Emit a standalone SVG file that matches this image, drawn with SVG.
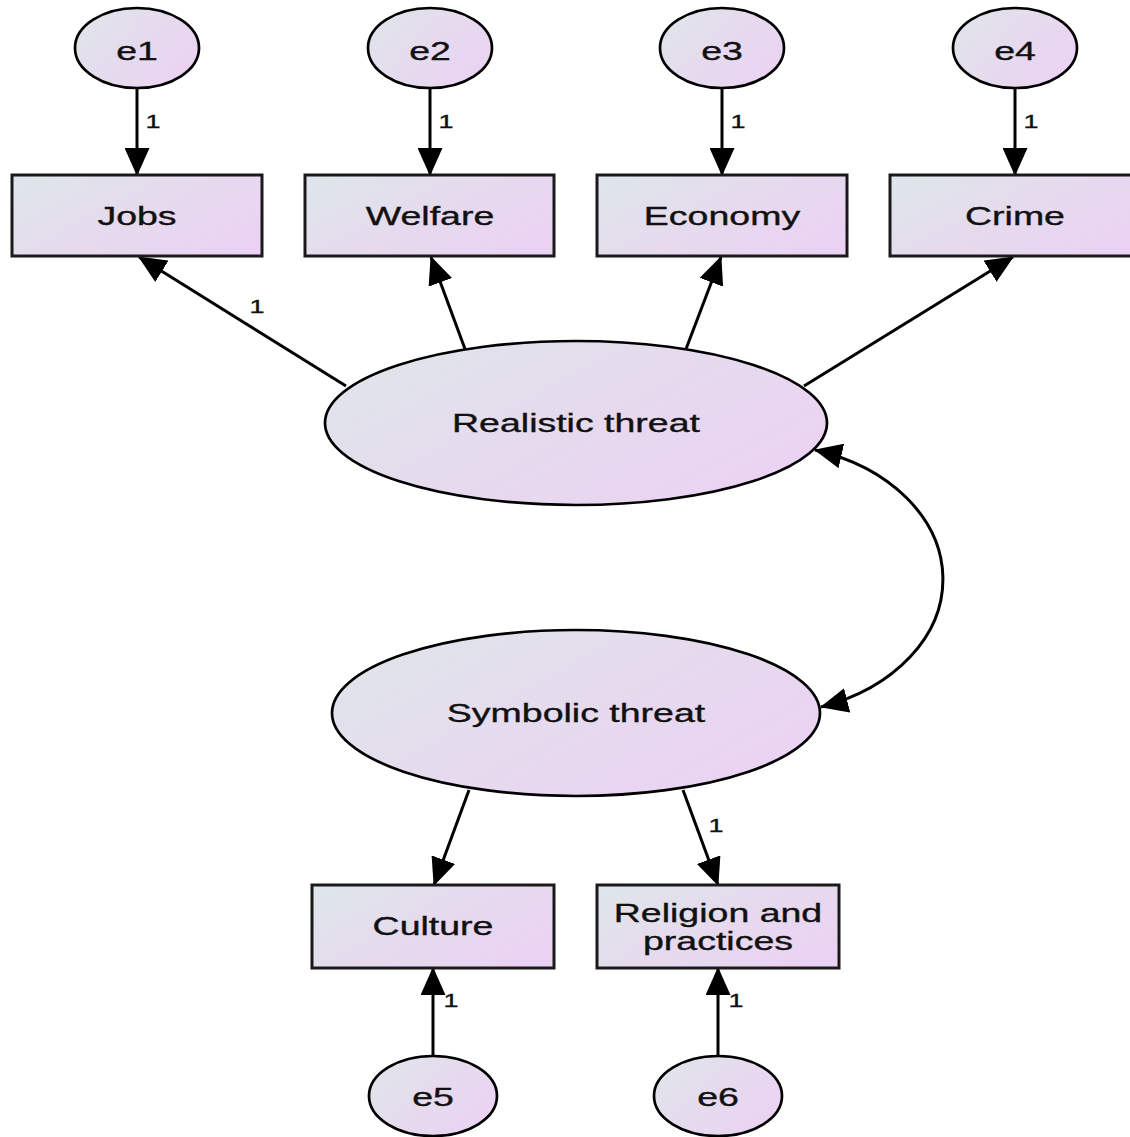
<svg xmlns="http://www.w3.org/2000/svg" width="1130" height="1137" viewBox="0 0 1130 1137">
  <defs>
    <linearGradient id="fill" x1="0" y1="0.2" x2="1" y2="0.8">
      <stop offset="0" stop-color="#dfe5ea"/>
      <stop offset="0.5" stop-color="#e6daee"/>
      <stop offset="1" stop-color="#ebd2f3"/>
    </linearGradient>
    <marker id="arr" viewBox="0 0 28 25" refX="27" refY="12.5" markerWidth="28" markerHeight="25" markerUnits="userSpaceOnUse" orient="auto-start-reverse">
      <path d="M0,0 L28,12.5 L0,25 z" fill="#000"/>
    </marker>
    <style>
      .node { fill: url(#fill); stroke: #000; stroke-width: 2.7; }
      .box { fill: url(#fill); stroke: #1a1a1a; stroke-width: 3; }
      .lbl { font-family: "Liberation Sans", Arial, sans-serif; font-size: 25px; fill: #111; stroke: #111; stroke-width: 0.35; text-anchor: middle; }
      .num { font-family: "Liberation Sans", Arial, sans-serif; font-size: 18px; fill: #111; stroke: #111; stroke-width: 0.3; text-anchor: middle; }
      .edge { fill: none; stroke: #000; stroke-width: 3; marker-end: url(#arr); }
      .cov { fill: none; stroke: #000; stroke-width: 3; marker-start: url(#arr); marker-end: url(#arr); }
    </style>
  </defs>
  <rect width="1130" height="1137" fill="#fff"/>

  <!-- paths and covariance -->
  <g id="connectors">
    <line class="edge" x1="137" y1="88" x2="137" y2="175"/>
    <line class="edge" x1="430" y1="88" x2="430" y2="175"/>
    <line class="edge" x1="722" y1="88" x2="722" y2="175"/>
    <line class="edge" x1="1015" y1="88" x2="1015" y2="175"/>
    <line class="edge" x1="346" y1="386" x2="139" y2="257"/>
    <line class="edge" x1="465" y1="349" x2="431" y2="257"/>
    <line class="edge" x1="686" y1="349" x2="721" y2="257"/>
    <line class="edge" x1="804" y1="386" x2="1013" y2="257"/>
    <line class="edge" x1="469" y1="790" x2="434" y2="885"/>
    <line class="edge" x1="683" y1="790" x2="718" y2="885"/>
    <line class="edge" x1="433" y1="1056" x2="433" y2="968"/>
    <line class="edge" x1="718" y1="1056" x2="718" y2="968"/>
    <path class="cov" d="M815,450 A180,135 0 0 1 821,707"/>
    <g class="weights">
      <text class="num" transform="translate(153,0) scale(1.5,1)" y="128">1</text>
      <text class="num" transform="translate(446,0) scale(1.5,1)" y="128">1</text>
      <text class="num" transform="translate(738,0) scale(1.5,1)" y="128">1</text>
      <text class="num" transform="translate(1031,0) scale(1.5,1)" y="128">1</text>
      <text class="num" transform="translate(257,0) scale(1.5,1)" y="313">1</text>
      <text class="num" transform="translate(716,0) scale(1.5,1)" y="832">1</text>
      <text class="num" transform="translate(451,0) scale(1.5,1)" y="1007">1</text>
      <text class="num" transform="translate(736,0) scale(1.5,1)" y="1007">1</text>
    </g>
  </g>

  <!-- error terms -->
  <g id="e1"><ellipse class="node" cx="137" cy="48" rx="62" ry="40"/><text class="lbl" transform="translate(137,0) scale(1.5,1)" y="60">e1</text></g>
  <g id="e2"><ellipse class="node" cx="430" cy="48" rx="62" ry="40"/><text class="lbl" transform="translate(430,0) scale(1.5,1)" y="60">e2</text></g>
  <g id="e3"><ellipse class="node" cx="722" cy="48" rx="62" ry="40"/><text class="lbl" transform="translate(722,0) scale(1.5,1)" y="60">e3</text></g>
  <g id="e4"><ellipse class="node" cx="1015" cy="48" rx="62" ry="40"/><text class="lbl" transform="translate(1015,0) scale(1.5,1)" y="60">e4</text></g>
  <g id="e5"><ellipse class="node" cx="433" cy="1096" rx="64" ry="40"/><text class="lbl" transform="translate(433,0) scale(1.5,1)" y="1106">e5</text></g>
  <g id="e6"><ellipse class="node" cx="718" cy="1096" rx="64" ry="40"/><text class="lbl" transform="translate(718,0) scale(1.5,1)" y="1106">e6</text></g>

  <!-- observed indicators -->
  <g id="jobs"><rect class="box" x="12" y="175" width="250" height="81"/><text class="lbl" transform="translate(137,0) scale(1.5,1)" y="225">Jobs</text></g>
  <g id="welfare"><rect class="box" x="305" y="175" width="249" height="81"/><text class="lbl" transform="translate(430,0) scale(1.5,1)" y="225">Welfare</text></g>
  <g id="economy"><rect class="box" x="597" y="175" width="250" height="81"/><text class="lbl" transform="translate(722,0) scale(1.5,1)" y="225">Economy</text></g>
  <g id="crime"><rect class="box" x="890" y="175" width="250" height="81"/><text class="lbl" transform="translate(1015,0) scale(1.5,1)" y="225">Crime</text></g>
  <g id="culture"><rect class="box" x="312" y="885" width="242" height="83"/><text class="lbl" transform="translate(433,0) scale(1.5,1)" y="935">Culture</text></g>
  <g id="religion"><rect class="box" x="597" y="885" width="242" height="83"/>
    <text class="lbl" transform="translate(718,0) scale(1.5,1)" y="922">Religion and</text>
    <text class="lbl" transform="translate(718,0) scale(1.5,1)" y="950">practices</text>
  </g>

  <!-- latent factors -->
  <g id="realistic"><ellipse class="node" cx="576" cy="423" rx="251" ry="82"/><text class="lbl" transform="translate(576,0) scale(1.5,1)" y="432">Realistic threat</text></g>
  <g id="symbolic"><ellipse class="node" cx="576" cy="713" rx="244" ry="83"/><text class="lbl" transform="translate(576,0) scale(1.5,1)" y="722">Symbolic threat</text></g>
</svg>
